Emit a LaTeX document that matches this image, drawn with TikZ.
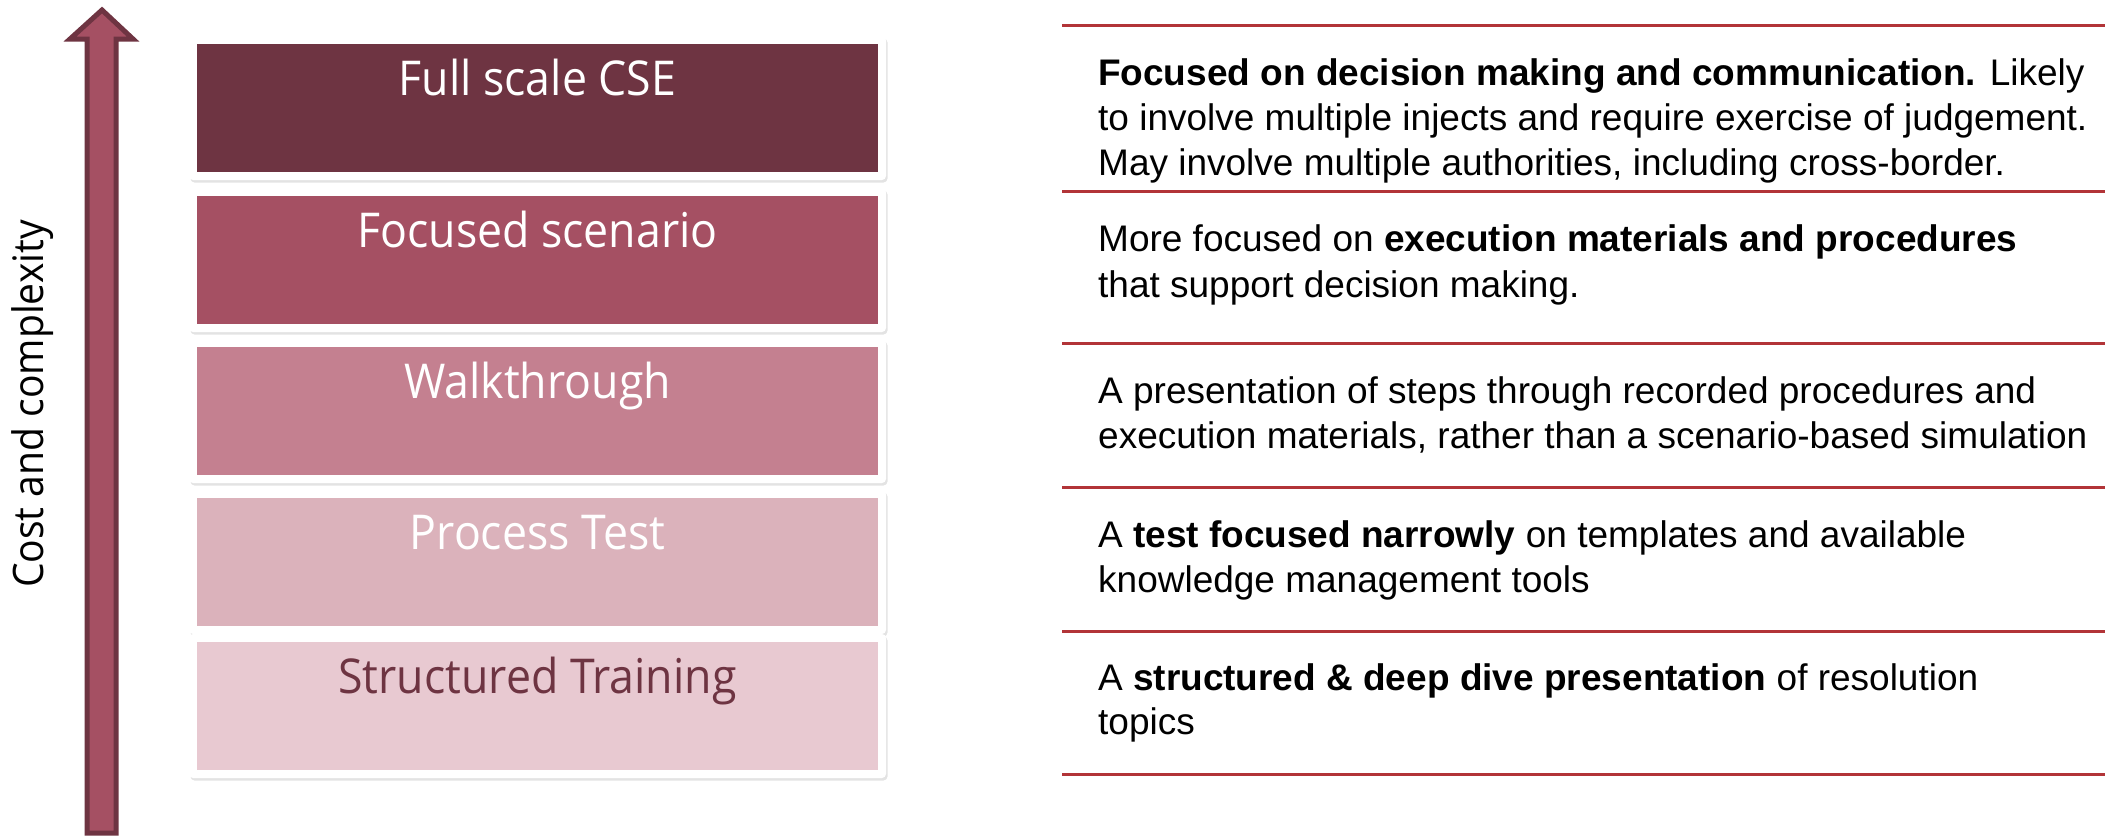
\documentclass[tikz,border=0pt]{standalone}
\usepackage{fontspec}
\setmainfont{Liberation Sans}
\newfontfamily\segoe[FakeStretch=0.93]{Open Sans}
\usetikzlibrary{shadows}

\definecolor{lvlA}{RGB}{110,52,66}
\definecolor{lvlB}{RGB}{165,80,99}
\definecolor{lvlC}{RGB}{196,128,144}
\definecolor{lvlD}{RGB}{219,178,187}
\definecolor{lvlE}{RGB}{232,201,209}
\definecolor{rule}{RGB}{178,52,56}

\tikzset{
  card/.style={fill=white, rounded corners=4pt, minimum width=697pt, minimum height=144pt,
    inner sep=0pt, drop shadow={opacity=0.22, shadow xshift=1.5pt, shadow yshift=-2.5pt}},
  level/.style={minimum width=681pt, minimum height=128pt, inner sep=0pt},
  levellabel/.style={anchor=base, inner sep=0pt, font=\segoe\fontsize{48}{56}\selectfont},
  desc/.style={anchor=base west, inner sep=0pt, font=\fontsize{37}{45}\selectfont},
  sepline/.style={draw=rule, line width=3pt},
  upshaft/.style={fill=lvlB, draw=lvlA, line width=5pt, miter limit=10}
}

\begin{document}
\begin{tikzpicture}[x=1pt,y=-1pt]
\useasboundingbox (0,0) rectangle (2105,836);

% vertical arrow
\path[upshaft] (102,10) -- (133,39) -- (116,39) -- (116,833) -- (87,833) -- (87,39) -- (70,39) -- cycle;
\node[rotate=90, anchor=base, inner sep=0pt, font=\segoe\fontsize{42}{50}\selectfont] (axis) at (43,404) {Cost and complexity};

% stacked levels
\foreach \y/\c/\n in {108/A/1, 260/B/2, 411/C/3, 562/D/4, 706/E/5} {
  \node[card] (c\n) at (537.5,\y) {};
  \node[level, fill=lvl\c] (b\n) at (537.5,\y) {};
}
\node[levellabel, text=white] (t1) at ([yshift=-52pt]b1.north) {Full scale CSE};
\node[levellabel, text=white] (t2) at ([yshift=-52pt]b2.north) {Focused scenario};
\node[levellabel, text=white] (t3) at ([yshift=-52pt]b3.north) {Walkthrough};
\node[levellabel, text=white] (t4) at ([yshift=-52pt]b4.north) {Process Test};
\node[levellabel, text=lvlA] (t5) at ([yshift=-52pt]b5.north) {Structured Training};

% separator rules
\foreach \y in {25,191,343,487,631,774} {
  \draw[sepline] (1062,\y) -- (2105,\y);
}

% descriptions
\node[desc] (d1a) at (1098,85) {\textbf{Focused on decision making and communication.} Likely};
\node[desc] (d1b) at (1098,130) {to involve multiple injects and require exercise of judgement.};
\node[desc] (d1c) at (1098,175) {May involve multiple authorities, including cross-border.};

\node[desc] (d2a) at (1098,251) {More focused on \textbf{execution materials and procedures}};
\node[desc] (d2b) at (1098,297) {that support decision making.};

\node[desc] (d3a) at (1098,403) {A presentation of steps through recorded procedures and};
\node[desc] (d3b) at (1098,448) {execution materials, rather than a scenario-based simulation};

\node[desc] (d4a) at (1098,547) {A \textbf{test focused narrowly} on templates and available};
\node[desc] (d4b) at (1098,592) {knowledge management tools};

\node[desc] (d5a) at (1098,690) {A \textbf{structured \& deep dive presentation} of resolution};
\node[desc] (d5b) at (1098,734) {topics};
\end{tikzpicture}
\end{document}
